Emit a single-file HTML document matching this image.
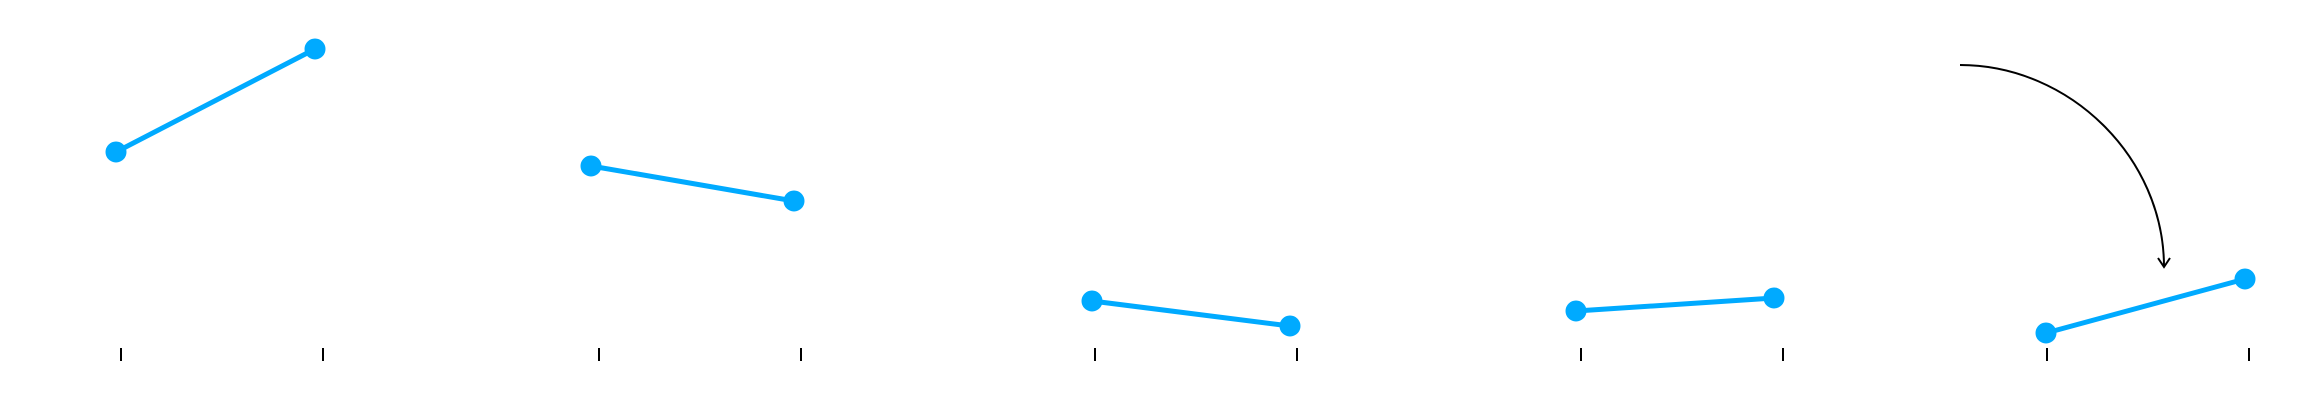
<!DOCTYPE html>
<html><head><style>html,body{margin:0;padding:0;background:#fff;width:2320px;height:420px;overflow:hidden}</style></head>
<body>
<svg width="2320" height="420" xmlns="http://www.w3.org/2000/svg">
<g stroke="#00aaff" stroke-width="5" fill="#00aaff">
<line x1="116" y1="152" x2="315" y2="49"/><circle cx="116" cy="152" r="8"/><circle cx="315" cy="49" r="8"/>
<line x1="591" y1="166" x2="794" y2="201"/><circle cx="591" cy="166" r="8"/><circle cx="794" cy="201" r="8"/>
<line x1="1092" y1="301" x2="1290" y2="326"/><circle cx="1092" cy="301" r="8"/><circle cx="1290" cy="326" r="8"/>
<line x1="1576" y1="311" x2="1774" y2="298"/><circle cx="1576" cy="311" r="8"/><circle cx="1774" cy="298" r="8"/>
<line x1="2046" y1="333" x2="2245" y2="279"/><circle cx="2046" cy="333" r="8"/><circle cx="2245" cy="279" r="8"/>
</g>
<g stroke="#000" stroke-width="2">
<line x1="121" y1="348" x2="121" y2="361"/><line x1="323" y1="348" x2="323" y2="361"/>
<line x1="599" y1="348" x2="599" y2="361"/><line x1="801" y1="348" x2="801" y2="361"/>
<line x1="1095" y1="348" x2="1095" y2="361"/><line x1="1297" y1="348" x2="1297" y2="361"/>
<line x1="1581" y1="348" x2="1581" y2="361"/><line x1="1783" y1="348" x2="1783" y2="361"/>
<line x1="2047" y1="348" x2="2047" y2="361"/><line x1="2249" y1="348" x2="2249" y2="361"/>
</g>
<g stroke="#000" stroke-width="2" fill="none">
<path d="M1960 65 C2070 65 2164 158 2164 267"/>
<path d="M2158 258 L2164 267 L2170 258"/>
</g>
</svg>
</body></html>
